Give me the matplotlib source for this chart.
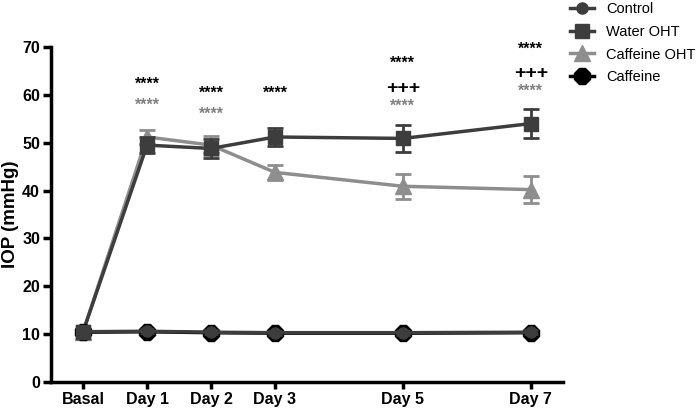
import numpy as np
import matplotlib
matplotlib.use("Agg")
from matplotlib import pyplot as plt
from matplotlib.lines import Line2D

plt.rcParams['font.family'] = ['Liberation Sans', 'DejaVu Sans']

days = [0, 1, 2, 3, 5, 7]
day_labels = ['Basal', 'Day 1', 'Day 2', 'Day 3', 'Day 5', 'Day 7']

control = [10.5, 10.6, 10.4, 10.3, 10.3, 10.4]
control_err = [0.4, 0.4, 0.4, 0.4, 0.4, 0.4]
water_oht = [10.5, 49.5, 48.8, 51.2, 50.9, 54.0]
water_err = [0.5, 1.7, 2.0, 1.8, 2.9, 3.0]
caff_oht = [10.5, 51.2, 49.5, 43.8, 40.9, 40.2]
caff_oht_err = [0.5, 1.5, 2.0, 1.5, 2.6, 2.8]
caffeine = [10.4, 10.5, 10.3, 10.2, 10.2, 10.3]
caffeine_err = [0.4, 0.4, 0.4, 0.4, 0.4, 0.4]

# significance marks: day, y value, text, colour
sig_x = [1, 1, 2, 2, 3, 5, 5, 5, 7, 7, 7]
sig_y = [62.3, 57.9, 60.4, 56.0, 60.4, 66.6, 61.4, 57.7, 69.5, 64.5, 60.7]
sig_txt = ['****', '****', '****', '****', '****', '****', '+++', '****', '****', '+++', '****']
sig_col = ['black', 'grey', 'black', 'grey', 'black', 'black', 'black', 'grey', 'black', 'black', 'grey']

fig = plt.figure(figsize=(7, 4.11), dpi=100)
ax = fig.add_axes([0.073, 0.0706, 0.731, 0.815])

c_dark = '#3d3d3d'
c_light = '#8e8e8e'

ax.errorbar(days, water_oht, yerr=water_err, color=c_dark, marker='s', ms=10, lw=2.5,
            capsize=6, capthick=2, elinewidth=2, zorder=3)
ax.errorbar(days, caff_oht, yerr=caff_oht_err, color=c_light, marker='^', ms=11, lw=2.5,
            capsize=6, capthick=2, elinewidth=2, zorder=2)
ax.errorbar(days, caffeine, yerr=caffeine_err, color='black', marker='8', ms=12, lw=2.5,
            capsize=5, capthick=2, elinewidth=2, zorder=4)
ax.errorbar(days, control, yerr=control_err, color=c_dark, marker='o', ms=8, lw=2.5,
            capsize=5, capthick=2, elinewidth=2, zorder=5)
# basal square sits on top in the original
ax.plot(days[:1], water_oht[:1], marker='s', ms=10, color=c_dark, zorder=6)

for x, y, t, c in zip(sig_x, sig_y, sig_txt, sig_col):
    fs = 14 if t == '+++' else 11.5
    ax.text(x, y, t, color=c, ha='center', va='center', fontsize=fs, fontweight='bold')

ax.set_xlim(-0.5, 7.5)
ax.set_ylim(0, 70)
ax.set_xticks(days)
ax.set_xticklabels(day_labels, fontsize=11.5, fontweight='bold')
ax.set_yticks(range(0, 71, 10))
ax.set_yticklabels([str(v) for v in range(0, 71, 10)], fontsize=11.5, fontweight='bold')
ax.set_ylabel('IOP (mmHg)', fontsize=13.5, fontweight='bold', labelpad=2)
ax.spines['top'].set_visible(False)
ax.spines['right'].set_visible(False)
ax.spines['left'].set_linewidth(2.5)
ax.spines['bottom'].set_linewidth(2.5)
ax.tick_params(axis='y', width=2.5, length=6, direction='out', pad=2)
ax.tick_params(axis='x', width=2.5, length=5, direction='out', pad=2)

handles = [
    Line2D([], [], color=c_dark, marker='o', ms=8, lw=2.5),
    Line2D([], [], color=c_dark, marker='s', ms=10, lw=2.5),
    Line2D([], [], color=c_light, marker='^', ms=11, lw=2.5),
    Line2D([], [], color='black', marker='8', ms=12, lw=2.5),
]
labels = ['Control', 'Water OHT', 'Caffeine OHT', 'Caffeine']
fig.legend(handles, labels, loc='upper left', bbox_to_anchor=(0.795, 1.027), frameon=False,
           fontsize=10.5, handlelength=1.7, handletextpad=0.8, labelspacing=0.6)

plt.savefig('out.png', dpi=100)
